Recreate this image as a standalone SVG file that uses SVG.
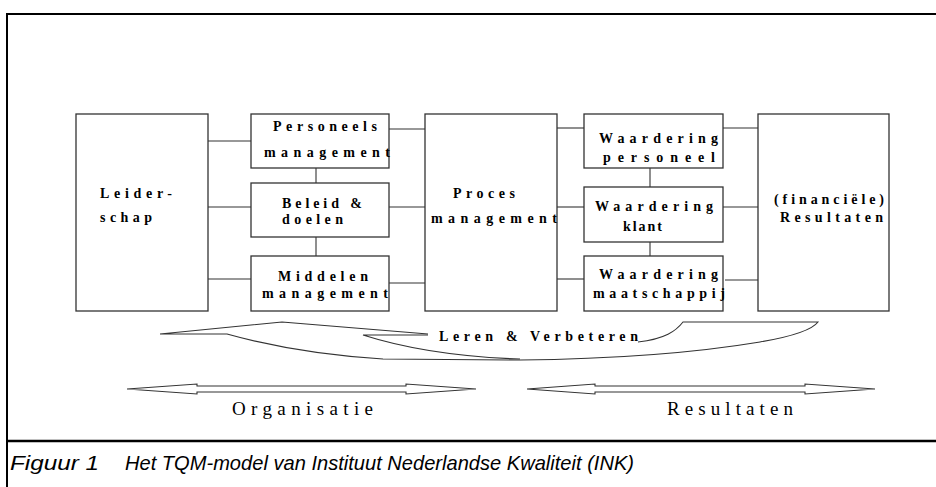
<svg xmlns="http://www.w3.org/2000/svg" width="936" height="487" viewBox="0 0 936 487">
<style>
.frame{fill:none;stroke:#000;stroke-width:2}
.box{fill:#fff;stroke:#333;stroke-width:1.3}
.ln{fill:none;stroke:#333;stroke-width:1.1}
.lbl{font-weight:bold;font-size:14px;fill:#000}
.big{font-size:19px;fill:#000}
.cap{font-style:italic;font-size:21px;fill:#000}
</style>
<rect width="936" height="487" fill="#fff"/>
<g id="frame">
<path class="frame" d="M7,487 V14 H936"/>
<line x1="7" y1="441" x2="936" y2="441" stroke="#000" stroke-width="2.5"/>
</g>
<g id="connectors">
<line class="ln" x1="208" y1="141" x2="251" y2="141"/>
<line class="ln" x1="208" y1="207" x2="251" y2="207"/>
<line class="ln" x1="208" y1="279" x2="251" y2="279"/>
<line class="ln" x1="316" y1="168" x2="316" y2="183"/>
<line class="ln" x1="316" y1="237" x2="316" y2="256"/>
<line class="ln" x1="389" y1="129" x2="425" y2="129"/>
<line class="ln" x1="389" y1="207" x2="425" y2="207"/>
<line class="ln" x1="389" y1="283" x2="425" y2="283"/>
<line class="ln" x1="557" y1="128" x2="584" y2="128"/>
<line class="ln" x1="557" y1="207" x2="584" y2="207"/>
<line class="ln" x1="557" y1="279" x2="584" y2="279"/>
<line class="ln" x1="650" y1="168" x2="650" y2="187"/>
<line class="ln" x1="650" y1="242" x2="650" y2="256"/>
<line class="ln" x1="723" y1="128" x2="758" y2="128"/>
<line class="ln" x1="719" y1="207" x2="758" y2="207"/>
<line class="ln" x1="725" y1="280" x2="763" y2="280"/>
</g>
<g font-family="'Liberation Serif', 'DejaVu Serif', 'Times New Roman', serif">
<g id="leiderschap">
<rect class="box" x="76" y="114" width="132" height="197"/>
<text class="lbl" x="100" y="198" textLength="72" lengthAdjust="spacing">Leider-</text>
<text class="lbl" x="100" y="222" textLength="52" lengthAdjust="spacing">schap</text>
</g>
<g id="personeelsmanagement">
<rect class="box" x="251" y="114" width="138" height="54"/>
<text class="lbl" x="273" y="131" textLength="104" lengthAdjust="spacing">Personeels</text>
<text class="lbl" x="264" y="157" textLength="126" lengthAdjust="spacing">management</text>
</g>
<g id="beleid">
<rect class="box" x="251" y="183" width="138" height="54"/>
<text class="lbl" x="282" y="208" textLength="80" lengthAdjust="spacing">Beleid &amp;</text>
<text class="lbl" x="282" y="224" textLength="61" lengthAdjust="spacing">doelen</text>
</g>
<g id="middelen">
<rect class="box" x="251" y="256" width="138" height="55"/>
<text class="lbl" x="278" y="281" textLength="90" lengthAdjust="spacing">Middelen</text>
<text class="lbl" x="262" y="298" textLength="126" lengthAdjust="spacing">management</text>
</g>
<g id="proces">
<rect class="box" x="425" y="114" width="132" height="197"/>
<text class="lbl" x="453" y="198" textLength="62" lengthAdjust="spacing">Proces</text>
<text class="lbl" x="431" y="223" textLength="126" lengthAdjust="spacing">management</text>
</g>
<g id="waardering-personeel">
<rect class="box" x="584" y="114" width="139" height="54"/>
<text class="lbl" x="599" y="143" textLength="119" lengthAdjust="spacing">Waardering</text>
<text class="lbl" x="603" y="162" textLength="112" lengthAdjust="spacing">personeel</text>
</g>
<g id="waardering-klant">
<rect class="box" x="584" y="187" width="139" height="55"/>
<text class="lbl" x="595" y="211" textLength="118" lengthAdjust="spacing">Waardering</text>
<text class="lbl" x="623" y="231" textLength="39" lengthAdjust="spacing">klant</text>
</g>
<g id="waardering-maatschappij">
<rect class="box" x="584" y="256" width="139" height="55"/>
<text class="lbl" x="599" y="279" textLength="119" lengthAdjust="spacing">Waardering</text>
<text class="lbl" x="593" y="298" textLength="132" lengthAdjust="spacing">maatschappij</text>
</g>
<g id="resultaten">
<rect class="box" x="758" y="114" width="131" height="197"/>
<text class="lbl" x="774" y="204" textLength="110" lengthAdjust="spacing">(financiële)</text>
<text class="lbl" x="780" y="222" textLength="103" lengthAdjust="spacing">Resultaten</text>
</g>
<g id="leren-verbeteren">
<path class="ln" d="M428,334 L282,322 L160,334 L227,334 C270,346 320,355 383,359 L520,360 C620,359 700,352 760,342 C795,336 812,330 818,322 L683,322 C676,331 665,339 638,342"/>
<path class="ln" d="M428,335 L363,335 C410,350 460,357 520,359"/>
<text class="lbl" x="439" y="341" textLength="199" lengthAdjust="spacing">Leren &amp; Verbeteren</text>
</g>
<g id="organisatie">
<path class="ln" d="M127,389 L197,384 L197,386 L406,386 L406,384 L476,389 L406,394 L406,392 L197,392 L197,394 Z"/>
<text class="big" x="232" y="415" textLength="141" lengthAdjust="spacing">Organisatie</text>
</g>
<g id="resultaten-as">
<path class="ln" d="M527,389 L595,384 L595,386 L805,386 L805,384 L875,389 L805,394 L805,392 L595,392 L595,394 Z"/>
<text class="big" x="667" y="415" textLength="126" lengthAdjust="spacing">Resultaten</text>
</g>
</g>
<g id="caption" font-family="'Liberation Sans Narrow', 'Liberation Sans', Arial, sans-serif">
<text class="cap" x="10" y="470" textLength="89" lengthAdjust="spacingAndGlyphs">Figuur 1</text>
<text class="cap" x="125" y="470" textLength="509" lengthAdjust="spacingAndGlyphs">Het TQM-model van Instituut Nederlandse Kwaliteit (INK)</text>
</g>
</svg>
